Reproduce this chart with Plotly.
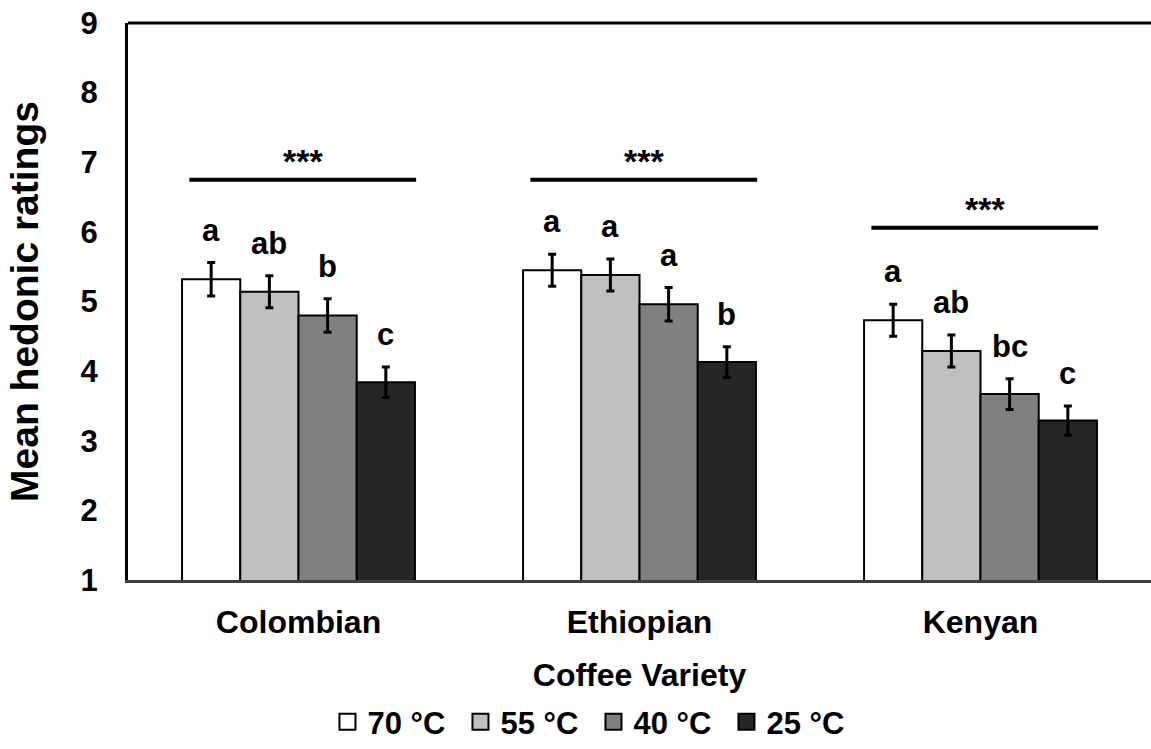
import plotly.graph_objects as go

varieties = ["Colombian", "Ethiopian", "Kenyan"]
temps = ["70 °C", "55 °C", "40 °C", "25 °C"]
colors = ["#FFFFFF", "#C0C0C0", "#808080", "#262626"]

means = {
    "70 °C": [5.32, 5.45, 4.73],
    "55 °C": [5.14, 5.38, 4.29],
    "40 °C": [4.80, 4.96, 3.67],
    "25 °C": [3.84, 4.13, 3.29],
}
errors = {
    "70 °C": [0.24, 0.23, 0.23],
    "55 °C": [0.23, 0.23, 0.23],
    "40 °C": [0.24, 0.24, 0.22],
    "25 °C": [0.22, 0.22, 0.21],
}
letters = {
    "70 °C": ["a", "a", "a"],
    "55 °C": ["ab", "a", "ab"],
    "40 °C": ["b", "a", "bc"],
    "25 °C": ["c", "b", "c"],
}
sig_y = [6.75, 6.75, 6.06]
sig_label = ["***", "***", "***"]

FONT = "Liberation Sans, Arial, sans-serif"
fig = go.Figure()
for t, c in zip(temps, colors):
    fig.add_trace(go.Bar(
        name=t, x=varieties, y=means[t], showlegend=False,
        marker=dict(color=c, line=dict(color="black", width=2)),
        error_y=dict(type="data", array=errors[t], color="black", thickness=3, width=4),
    ))
# legend entries (square swatches)
for t, c in zip(temps, colors):
    fig.add_trace(go.Scatter(
        name=t, x=[None], y=[None], mode="markers",
        marker=dict(symbol="square", size=16, color=c, line=dict(color="black", width=2)),
    ))

bargap = 0.317
group_w = 1 - bargap
bar_w = group_w / len(temps)
annotations = []
for ti, t in enumerate(temps):
    off = -group_w / 2 + bar_w * (ti + 0.5)
    for vi, v in enumerate(varieties):
        annotations.append(dict(
            x=vi + off, y=means[t][vi] + errors[t][vi], xref="x", yref="y",
            text=letters[t][vi], showarrow=False, yanchor="bottom", yshift=13,
            font=dict(family=FONT, size=31, color="black", weight="bold"),
        ))

shapes = []
for vi, v in enumerate(varieties):
    shapes.append(dict(type="line", xref="x", yref="y",
                       x0=vi - 0.32, x1=vi + 0.345, y0=sig_y[vi], y1=sig_y[vi],
                       line=dict(color="black", width=4)))
    annotations.append(dict(
        x=vi + 0.0125, y=sig_y[vi], xref="x", yref="y", text=sig_label[vi],
        showarrow=False, yanchor="bottom", yshift=-2,
        font=dict(family=FONT, size=34, color="black", weight="bold"),
    ))
# top frame line
shapes.append(dict(type="line", xref="paper", yref="paper", x0=0, x1=1, y0=1, y1=1,
                   line=dict(color="black", width=3)))

fig.update_layout(
    width=1151, height=749,
    margin=dict(l=128, r=0, t=23, b=169, autoexpand=False),
    paper_bgcolor="white", plot_bgcolor="white",
    barmode="group", bargap=bargap, bargroupgap=0,
    font=dict(family=FONT, color="black"),
    annotations=annotations, shapes=shapes,
    legend=dict(orientation="h", x=0.455, xanchor="center", y=-0.255, yanchor="middle",
                font=dict(family=FONT, size=31, weight="bold"), entrywidth=88,
                traceorder="normal", itemsizing="trace"),
    showlegend=True,
)
fig.update_xaxes(
    showline=True, linecolor="#404040", linewidth=3, ticks="", automargin=False,
    tickfont=dict(family=FONT, size=32, weight="bold"), ticklabelstandoff=12,
    title=dict(text="Coffee Variety", font=dict(family=FONT, size=32, weight="bold"), standoff=25),
    range=[-0.5, 2.5],
)
fig.update_yaxes(
    range=[1, 9], dtick=1, showline=True, linecolor="black", linewidth=3, ticks="",
    showgrid=False, zeroline=False, automargin=False,
    tickfont=dict(family=FONT, size=31, weight="bold"), ticklabelstandoff=21,
    title=dict(text="Mean hedonic ratings", font=dict(family=FONT, size=39, weight="bold"), standoff=30),
)
fig.write_html("out.html", config={"displayModeBar": False},
               post_script="document.body.style.margin='0px';")
